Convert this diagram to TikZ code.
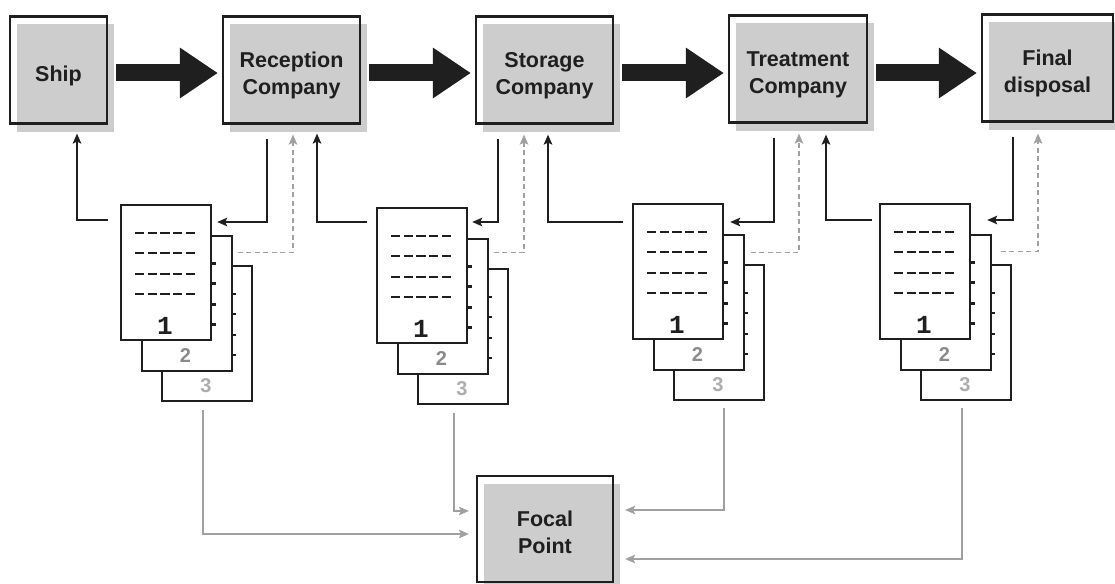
\documentclass[tikz,border=0pt]{standalone}
\usepackage{fontspec}
\setmainfont{Liberation Sans}
\newfontfamily\digitfont{Liberation Mono}
\usetikzlibrary{arrows.meta,calc,backgrounds}

\definecolor{ink}{HTML}{1F1F1F}
\definecolor{boxgrey}{HTML}{CDCDCD}
\definecolor{wire}{HTML}{A0A0A0}
\definecolor{numtwo}{HTML}{8A8A8A}
\definecolor{numthree}{HTML}{ADADAD}

% stage caption: centred lines, with extra room above so the text sits a little low
\newcommand\stagetitle[1]{\begin{tabular}{@{}c@{}}\rule{0pt}{31pt}#1\end{tabular}}

% one stack of three overlapping forms; #1 = name prefix, #2 = top-left corner of the front form
\newcommand\formstack[2]{%
  \node[formsheet, anchor=north west] (#1c) at ($(#2)+(41,61)$) {};
  \foreach \r in {29,49,70,90} \draw[formrule] ([shift={(15,\r)}]#1c.north west) -- ++(61,0);
  \node[font=\fontsize{20}{22}\selectfont\bfseries, text=numthree] (#1n3) at ([shift={(45,121)}]#1c.north west) {3};
  \node[formsheet, anchor=north west] (#1b) at ($(#2)+(20.5,30.5)$) {};
  \foreach \r in {29,49,70,90} \draw[formrule] ([shift={(15,\r)}]#1b.north west) -- ++(61,0);
  \node[font=\fontsize{20}{22}\selectfont\bfseries, text=numtwo] (#1n2) at ([shift={(45,121)}]#1b.north west) {2};
  \node[formsheet, anchor=north west] (#1a) at (#2) {};
  \foreach \r in {29,49,70,90} \draw[formrule] ([shift={(15,\r)}]#1a.north west) -- ++(61,0);
  \node[font=\digitfont\fontsize{26}{28}\selectfont\bfseries, text=ink] (#1n1) at ([shift={(45,122)}]#1a.north west) {1};
}

% grey offset panel behind a stage box
\newcommand\stagepanel[1]{%
  \fill[boxgrey] ([shift={(8,9)}]#1.north west) rectangle ([shift={(6,7)}]#1.south east);
}

\begin{document}
\begin{tikzpicture}[x=1pt,y=-1pt,
  stage/.style={draw=ink, line width=2.2pt, minimum height=107pt, inner sep=0pt,
    font=\fontsize{21.5}{27}\selectfont\bfseries, text=ink},
  fatarrow/.style={draw=ink, line width=17pt, -{Triangle[length=38pt,width=48pt]}},
  formsheet/.style={draw=ink, fill=white, line width=2.2pt, minimum width=90pt,
    minimum height=135pt, inner sep=0pt},
  formrule/.style={draw=ink, line width=2.6pt, dash pattern=on 9.3pt off 3.4pt},
  flow/.style={draw=ink, line width=2pt, -{Stealth[length=10pt,width=8.5pt,inset=2pt]}},
  reply/.style={draw=wire, line width=1.6pt, dash pattern=on 5pt off 3.5pt,
    -{Stealth[length=10pt,width=8.5pt,inset=2pt]}},
  report/.style={draw=wire, line width=1.6pt, -{Stealth[length=10pt,width=8.5pt,inset=2pt]}}
]
\useasboundingbox (0,0) rectangle (1115,583);
\begin{scope}[on background layer]
  \fill[white] (0,0) rectangle (1115,583);
\end{scope}

% chain of stages
\node[stage, minimum width=97pt]  (ship) at (58.5,70)   {\stagetitle{Ship}};
\node[stage, minimum width=137pt] (rec)  at (291.5,70)  {\stagetitle{Reception\\Company}};
\node[stage, minimum width=137pt] (sto)  at (544.5,70)  {\stagetitle{Storage\\Company}};
\node[stage, minimum width=138pt] (trt)  at (798,69)    {\stagetitle{Treatment\\Company}};
\node[stage, minimum width=131pt] (fin)  at (1047.5,68) {\stagetitle{Final\\disposal}};
\node[stage, minimum width=136pt, minimum height=106pt] (focal) at (545,529) {\stagetitle{Focal\\Point}};

\begin{scope}[on background layer]
  \foreach \n in {ship,rec,sto,trt,fin,focal} {\stagepanel{\n}}
\end{scope}

% waste movement
\draw[fatarrow] ([shift={(8,3)}]ship.east) -- ([shift={(-4,3)}]rec.west);
\draw[fatarrow] ([shift={(8,3)}]rec.east)  -- ([shift={(-4,3)}]sto.west);
\draw[fatarrow] ([shift={(8,3)}]sto.east)  -- ([shift={(-4,4)}]trt.west);
\draw[fatarrow] ([shift={(8,4)}]trt.east)  -- ([shift={(-4,5)}]fin.west);

% document stacks
\formstack{A}{120,204}
\formstack{B}{376,207}
\formstack{C}{632,203}
\formstack{D}{879,203}

% stack A: ship -> reception
\draw[flow]  ([shift={(-24.5,14)}]rec.south) |- ([shift={(5,18)}]Aa.north east);
\draw[reply] ([shift={(5,18)}]Ab.north east) -| ([shift={(1.5,10)}]rec.south);
\draw[flow]  ([shift={(-12,16)}]Aa.north west) -| ([shift={(18.5,9)}]ship.south);
\draw[report] ([shift={(42,8)}]Ac.south west) |- ([shift={(-7,5)}]focal.west);

% stack B: reception -> storage
\draw[flow]  ([shift={(-46.5,14)}]sto.south) |- ([shift={(4,15)}]Ba.north east);
\draw[reply] ([shift={(5,15)}]Bb.north east) -| ([shift={(-20.5,10)}]sto.south);
\draw[flow]  ([shift={(-9,15)}]Ba.north west) -| ([shift={(25.5,9)}]rec.south);
\draw[report] ([shift={(37,8)}]Bc.south west) |- ([shift={(-7,-18)}]focal.west);

% stack C: storage -> treatment
\draw[flow]  ([shift={(-24,14)}]trt.south) |- ([shift={(6,19)}]Ca.north east);
\draw[reply] ([shift={(6,19)}]Cb.north east) -| ([shift={(1,10)}]trt.south);
\draw[flow]  ([shift={(-9,19)}]Ca.north west) -| ([shift={(3.5,10)}]sto.south);
\draw[report] ([shift={(51,7)}]Cc.south west) |- ([shift={(11,-19)}]focal.east);

% stack D: treatment -> final disposal
\draw[flow]  ([shift={(-34.5,14)}]fin.south) |- ([shift={(16,17)}]Da.north east);
\draw[reply] ([shift={(9,18)}]Db.north east) -| ([shift={(-9.5,11)}]fin.south);
\draw[flow]  ([shift={(-7,17)}]Da.north west) -| ([shift={(28,11)}]trt.south);
\draw[report] ([shift={(42,7)}]Dc.south west) |- ([shift={(11,30)}]focal.east);
\end{tikzpicture}
\end{document}
